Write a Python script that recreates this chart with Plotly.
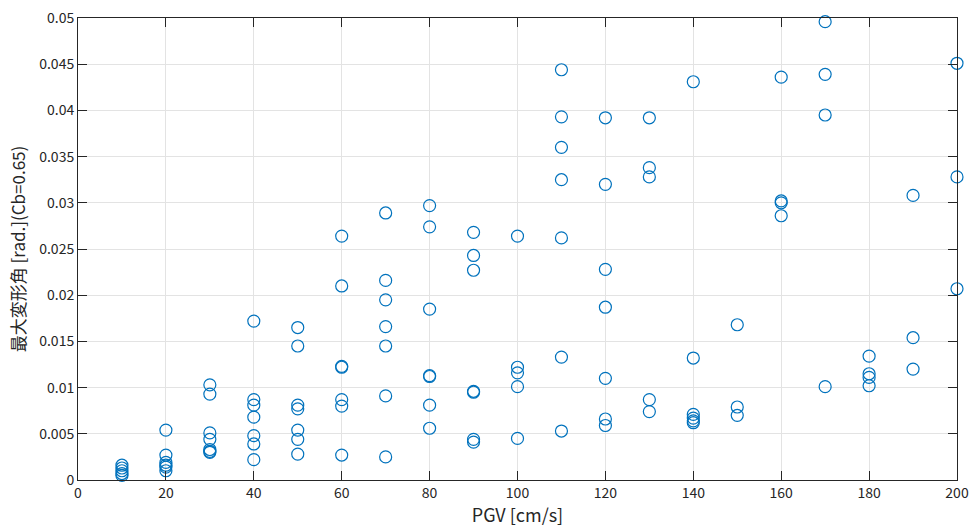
import plotly.graph_objects as go

pgv_10 = [0.0016, 0.0013, 0.0010, 0.0007, 0.0005]
pgv_20 = [0.0054, 0.0027, 0.0019, 0.0016, 0.0014, 0.0010]
pgv_30 = [0.0103, 0.0093, 0.0051, 0.0044, 0.0033, 0.0031, 0.0030]
pgv_40 = [0.0172, 0.0087, 0.0081, 0.0068, 0.0048, 0.0039, 0.0022]
pgv_50 = [0.0165, 0.0145, 0.0081, 0.0077, 0.0054, 0.0044, 0.0028]
pgv_60 = [0.0264, 0.0210, 0.0123, 0.0122, 0.0087, 0.0080, 0.0027]
pgv_70 = [0.0289, 0.0216, 0.0195, 0.0166, 0.0145, 0.0091, 0.0025]
pgv_80 = [0.0297, 0.0274, 0.0185, 0.0113, 0.0112, 0.0081, 0.0056]
pgv_90 = [0.0268, 0.0243, 0.0227, 0.0096, 0.0095, 0.0044, 0.0041]
pgv_100 = [0.0264, 0.0122, 0.0116, 0.0101, 0.0045]
pgv_110 = [0.0444, 0.0393, 0.0360, 0.0325, 0.0262, 0.0133, 0.0053]
pgv_120 = [0.0392, 0.0320, 0.0228, 0.0187, 0.0110, 0.0066, 0.0059]
pgv_130 = [0.0392, 0.0338, 0.0328, 0.0087, 0.0074]
pgv_140 = [0.0431, 0.0132, 0.0071, 0.0067, 0.0064, 0.0062]
pgv_150 = [0.0168, 0.0079, 0.0070]
pgv_160 = [0.0436, 0.0302, 0.0300, 0.0286]
pgv_170 = [0.0496, 0.0439, 0.0395, 0.0101]
pgv_180 = [0.0134, 0.0115, 0.0111, 0.0102]
pgv_190 = [0.0308, 0.0154, 0.0120]
pgv_200 = [0.0451, 0.0328, 0.0207]

groups = {10: pgv_10, 20: pgv_20, 30: pgv_30, 40: pgv_40, 50: pgv_50,
          60: pgv_60, 70: pgv_70, 80: pgv_80, 90: pgv_90, 100: pgv_100,
          110: pgv_110, 120: pgv_120, 130: pgv_130, 140: pgv_140, 150: pgv_150,
          160: pgv_160, 170: pgv_170, 180: pgv_180, 190: pgv_190, 200: pgv_200}

xs, ys = [], []
for k, vals in groups.items():
    for v in vals:
        xs.append(k)
        ys.append(v)

x_ticks = list(range(0, 201, 20))
y_ticks = [0, 0.005, 0.01, 0.015, 0.02, 0.025, 0.03, 0.035, 0.04, 0.045, 0.05]
y_tick_text = ["0", "0.005", "0.01", "0.015", "0.02", "0.025", "0.03", "0.035", "0.04", "0.045", "0.05"]

FONT = "Noto Sans CJK JP, Roboto, sans-serif"

fig = go.Figure()
fig.add_trace(go.Scatter(
    x=xs, y=ys, mode="markers", cliponaxis=False,
    marker=dict(symbol="circle-open", size=12, color="#0072BD",
                line=dict(width=1.2, color="#0072BD")),
    showlegend=False,
))

axis_common = dict(
    showgrid=True, gridcolor="#e3e3e3", gridwidth=1,
    showline=True, linecolor="#262626", linewidth=1, mirror="ticks",
    ticks="inside", ticklen=9, tickcolor="#262626", tickwidth=1,
    zeroline=False, automargin=False,
    tickfont=dict(family=FONT, size=14, color="#262626"),
)

fig.update_xaxes(range=[0, 200], tickvals=x_ticks,
                 title=dict(text="PGV [cm/s]", font=dict(family=FONT, size=18, color="#262626"), standoff=10),
                 **axis_common)
fig.update_yaxes(range=[0, 0.05], tickvals=y_ticks, ticktext=y_tick_text,
                 title=dict(text="最大変形角 [rad.](Cb=0.65)", font=dict(family=FONT, size=17, color="#262626"), standoff=9),
                 **axis_common)

fig.update_layout(
    width=970, height=527,
    margin=dict(l=78, r=13, t=18, b=47),
    paper_bgcolor="white", plot_bgcolor="white",
    font=dict(family=FONT),
)

fig.write_html("out.html")
